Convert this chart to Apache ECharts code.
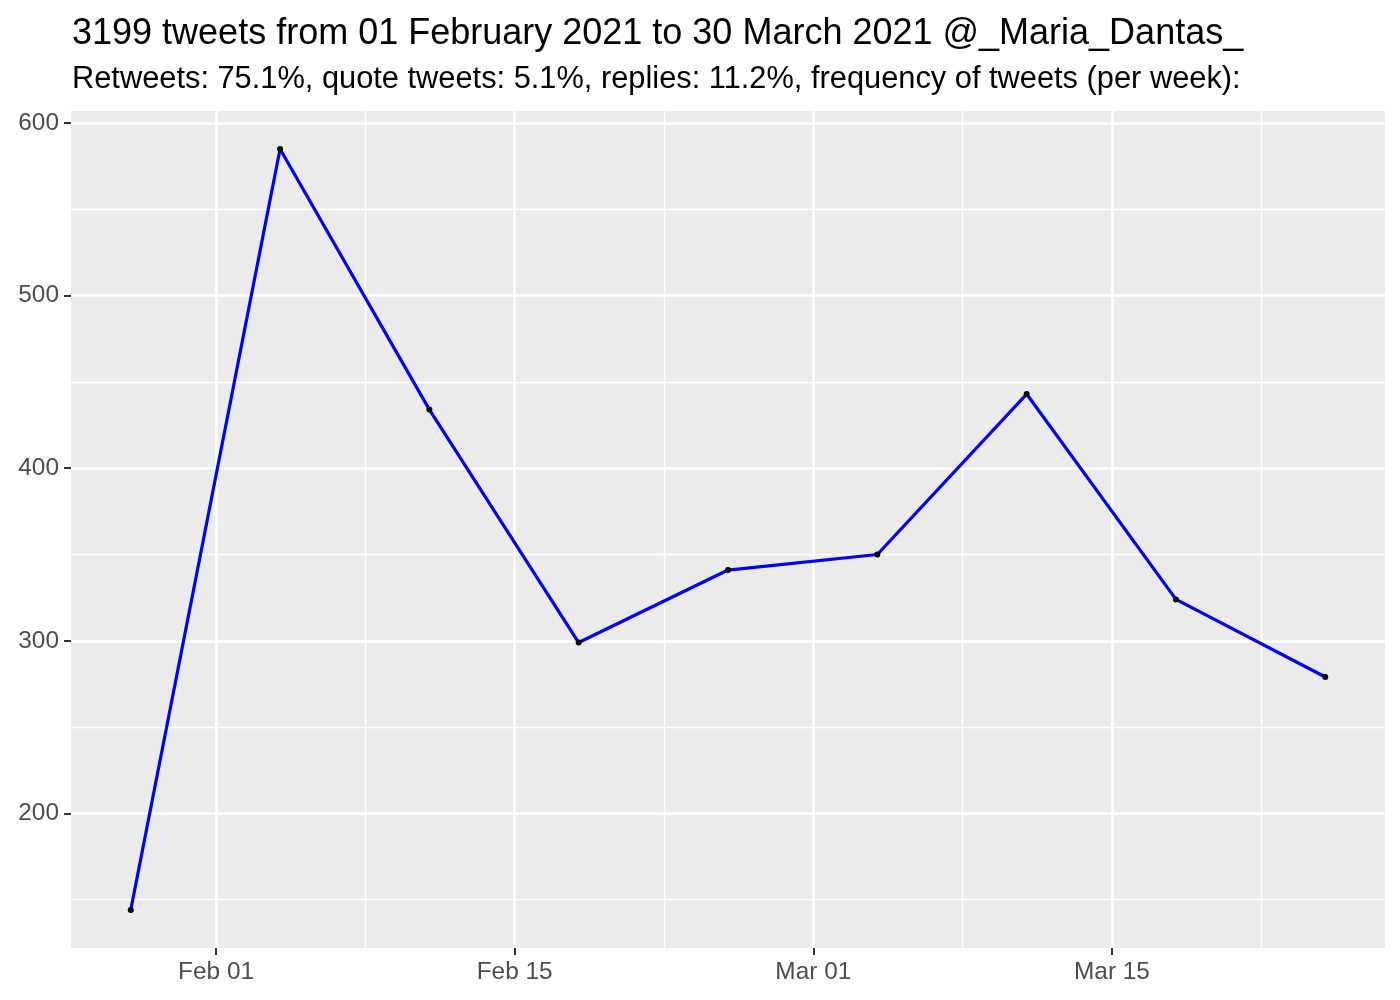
<!DOCTYPE html>
<html>
<head>
<meta charset="utf-8">
<script src="https://cdn.jsdelivr.net/npm/echarts@6/dist/echarts.min.js"></script>
<style>
html,body{margin:0;padding:0;background:#fff;}
#chart{width:1400px;height:1000px;}
</style>
</head>
<body>
<div id="chart"></div>
<script>
// Weekly tweet counts
const weekDates = ["2021-01-28","2021-02-04","2021-02-11","2021-02-18","2021-02-25","2021-03-04","2021-03-11","2021-03-18","2021-03-25"];
const tweetCounts = [144, 585, 434, 299, 341, 350, 443, 324, 279];
const xMajorTickDates = ["2021-02-01","2021-02-15","2021-03-01","2021-03-15"];
const xMajorTickLabels = ["Feb 01","Feb 15","Mar 01","Mar 15"];
const xMinorTickDates = ["2021-02-08","2021-02-22","2021-03-08","2021-03-22"];
const yMajorTicks = [200, 300, 400, 500, 600];
const yMinorTicks = [150, 250, 350, 450, 550];
const titleText = "3199 tweets from 01 February 2021 to 30 March 2021 @_Maria_Dantas_";
const subtitleText = "Retweets: 75.1%, quote tweets: 5.1%, replies: 11.2%, frequency of tweets (per week):";

const DAY = 86400000;
const origin = Date.UTC(2021, 1, 1);
function dayOf(s) {
  const p = s.split("-").map(Number);
  return (Date.UTC(p[0], p[1] - 1, p[2]) - origin) / DAY;
}
const xs = weekDates.map(dayOf);
const majorX = xMajorTickDates.map(dayOf);
const minorX = xMinorTickDates.map(dayOf);
const labelMap = {};
majorX.forEach((v, i) => { labelMap[v] = xMajorTickLabels[i]; });

// ggplot-style 5% expansion
const xMin = Math.min(...xs), xMax = Math.max(...xs);
const xPad = (xMax - xMin) * 0.05;
const yMinD = Math.min(...tweetCounts), yMaxD = Math.max(...tweetCounts);
const yPad = (yMaxD - yMinD) * 0.05;

const font = "Liberation Sans, Arial, Helvetica, sans-serif";
const chart = echarts.init(document.getElementById('chart'), null, {renderer: 'canvas'});
const gridStyle = {left: 71, right: 15, top: 111, bottom: 52};

chart.setOption({
  animation: false,
  backgroundColor: '#ffffff',
  title: [
    {text: titleText, left: 67, top: 11, textStyle: {fontFamily: font, fontSize: 36, fontWeight: 'normal', color: '#000'}},
    {text: subtitleText, left: 67, top: 59, textStyle: {fontFamily: font, fontSize: 30.8, fontWeight: 'normal', color: '#000'}}
  ],
  grid: Object.assign({backgroundColor: '#EBEBEB', show: true, borderWidth: 0}, gridStyle),
  xAxis: [
    {
      type: 'value', min: xMin - xPad, max: xMax + xPad,
      axisLine: {show: false, onZero: false},
      axisTick: {show: true, length: 7, lineStyle: {color: '#333', width: 2}, customValues: majorX},
      axisLabel: {customValues: majorX, formatter: v => labelMap[v] || '', color: '#4D4D4D', fontFamily: font, fontSize: 24.4, margin: 12},
      splitLine: {show: true, lineStyle: {color: '#fff', width: 2.7}}
    },
    {
      type: 'value', min: xMin - xPad, max: xMax + xPad,
      axisLine: {show: false, onZero: false},
      axisTick: {show: false, customValues: minorX},
      axisLabel: {show: false, customValues: minorX},
      splitLine: {show: true, lineStyle: {color: '#fff', width: 1.4}}
    }
  ],
  yAxis: [
    {
      type: 'value', min: yMinD - yPad, max: yMaxD + yPad,
      axisLine: {show: false, onZero: false},
      axisTick: {show: true, length: 7, lineStyle: {color: '#333', width: 2}, customValues: yMajorTicks},
      axisLabel: {customValues: yMajorTicks, color: '#4D4D4D', fontFamily: font, fontSize: 24.4, margin: 12},
      splitLine: {show: true, lineStyle: {color: '#fff', width: 2.7}}
    },
    {
      type: 'value', min: yMinD - yPad, max: yMaxD + yPad,
      axisLine: {show: false, onZero: false},
      axisTick: {show: false, customValues: yMinorTicks},
      axisLabel: {show: false, customValues: yMinorTicks},
      splitLine: {show: true, lineStyle: {color: '#fff', width: 1.4}}
    }
  ],
  series: [{
    type: 'line',
    xAxisIndex: 0, yAxisIndex: 0,
    data: xs.map((x, i) => [x, tweetCounts[i]]),
    lineStyle: {color: '#0000FF', width: 3.2},
    symbol: 'circle', symbolSize: 6,
    itemStyle: {color: '#000'},
    z: 3
  }]
});
</script>
</body>
</html>
